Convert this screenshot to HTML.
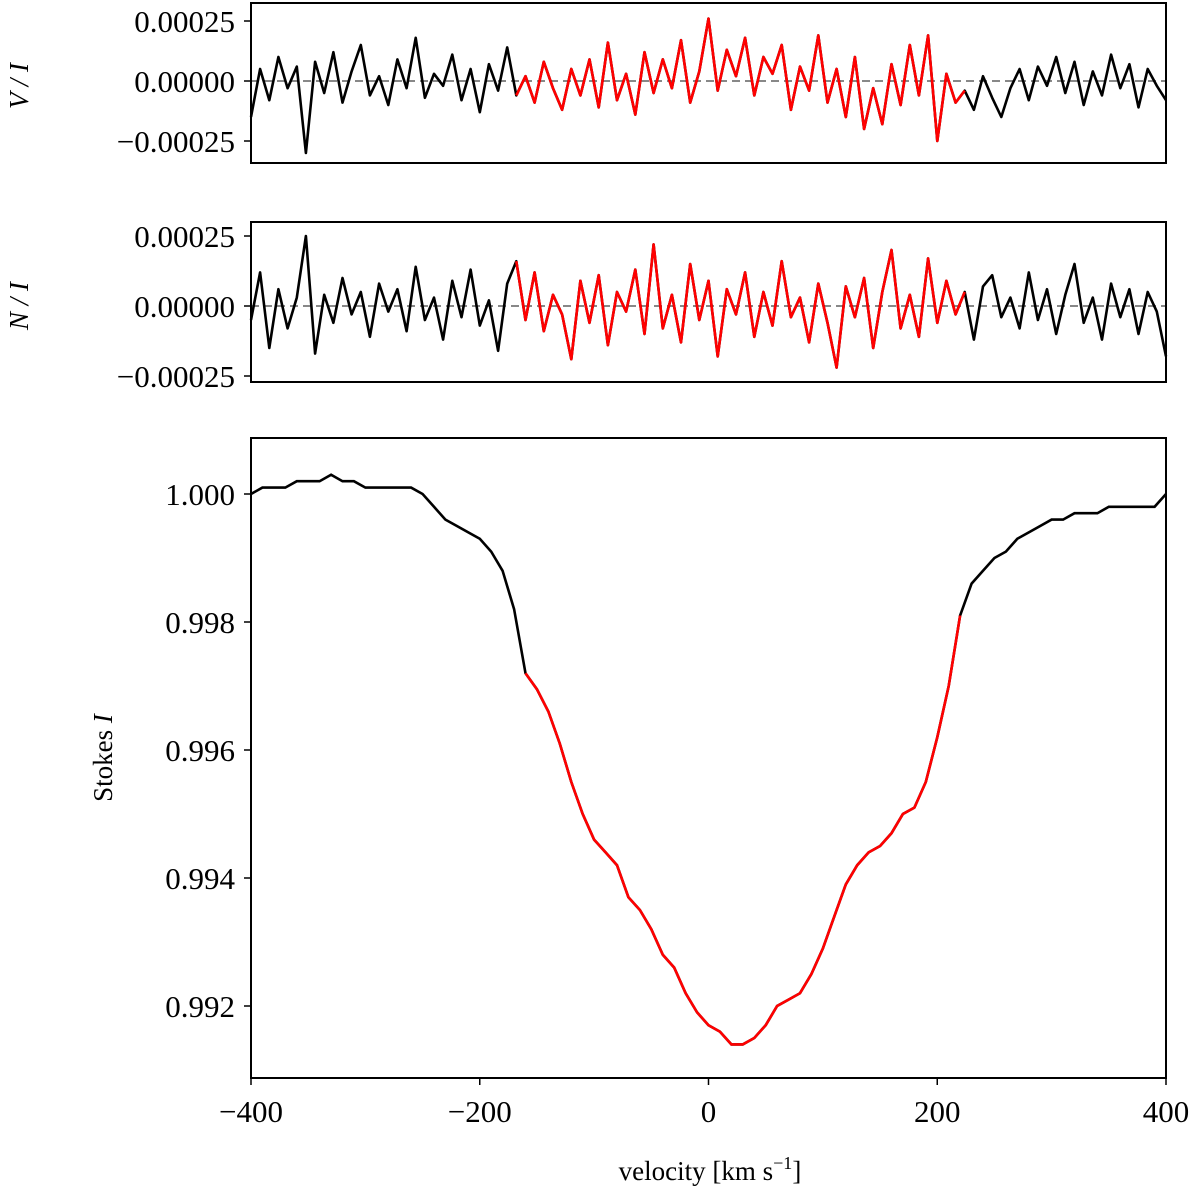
<!DOCTYPE html>
<html><head><meta charset="utf-8">
<style>
body{margin:0;background:#fff;}
svg{display:block;font-family:"Liberation Serif","DejaVu Serif",serif;}
</style></head>
<body>
<svg id="fig" width="1200" height="1198" viewBox="0 0 1200 1198" xmlns="http://www.w3.org/2000/svg"></svg>
<script>
// ---- data ----
const xTicks = [-400, -200, 0, 200, 400];
const noiseTicks = [0.00025, 0, -0.00025];
const noiseTickLabels = ["0.00025", "0.00000", "\u22120.00025"];
const iTicks = [1.000, 0.998, 0.996, 0.994, 0.992];
const iTickLabels = ["1.000", "0.998", "0.996", "0.994", "0.992"];
const redRange = [-165, 220];
// V/I values (x1e-4), evenly spaced from -400 to 400 km/s
const vValues = [-1.5,0.5,-0.8,1.0,-0.3,0.6,-3.0,0.8,-0.5,1.2,-0.9,0.4,1.5,-0.6,0.2,-1.0,0.9,-0.3,1.8,-0.7,0.3,-0.2,1.1,-0.8,0.5,-1.3,0.7,-0.4,1.4,-0.6,0.2,-0.9,0.8,-0.3,-1.2,0.5,-0.6,0.9,-1.1,1.6,-0.8,0.3,-1.4,1.2,-0.5,0.9,-0.3,1.7,-0.9,0.4,2.6,-0.4,1.3,0.2,1.8,-0.6,1.0,0.3,1.5,-1.2,0.6,-0.4,1.9,-0.9,0.5,-1.5,1.0,-2.0,-0.3,-1.8,0.7,-1.0,1.5,-0.6,1.9,-2.5,0.3,-0.9,-0.4,-1.2,0.2,-0.7,-1.5,-0.3,0.5,-0.8,0.6,-0.2,1.0,-0.5,0.8,-1.0,0.4,-0.6,1.1,-0.3,0.7,-1.1,0.5,-0.2,-0.8];
// N/I values (x1e-4)
const nValues = [-0.5,1.2,-1.5,0.6,-0.8,0.3,2.5,-1.7,0.4,-0.6,1.0,-0.3,0.5,-1.1,0.8,-0.2,0.6,-0.9,1.4,-0.5,0.3,-1.2,0.9,-0.4,1.3,-0.7,0.2,-1.6,0.8,1.6,-0.5,1.2,-0.9,0.4,-0.3,-1.9,0.9,-0.6,1.1,-1.4,0.5,-0.2,1.3,-1.0,2.2,-0.8,0.4,-1.3,1.5,-0.5,0.9,-1.8,0.6,-0.3,1.2,-1.1,0.5,-0.7,1.6,-0.4,0.3,-1.3,0.8,-0.6,-2.2,0.7,-0.4,1.0,-1.5,0.5,2.0,-0.8,0.4,-1.1,1.7,-0.6,0.9,-0.3,0.5,-1.2,0.7,1.1,-0.4,0.3,-0.8,1.2,-0.5,0.6,-1.0,0.4,1.5,-0.6,0.3,-1.2,0.8,-0.4,0.6,-1.0,0.5,-0.2,-1.8];
// Stokes I values, 10 km/s steps from -400 to 400
const iValues = [1.0000,1.0001,1.0001,1.0001,1.0002,1.0002,1.0002,1.0003,1.0002,1.0002,1.0001,1.0001,1.0001,1.0001,1.0001,1.0000,0.9998,0.9996,0.9995,0.9994,0.9993,0.9991,0.9988,0.9982,0.9972,0.99695,0.9966,0.9961,0.9955,0.9950,0.9946,0.9944,0.9942,0.9937,0.9935,0.9932,0.9928,0.9926,0.9922,0.9919,0.9917,0.9916,0.9914,0.9914,0.9915,0.9917,0.9920,0.9921,0.9922,0.9925,0.9929,0.9934,0.9939,0.9942,0.9944,0.9945,0.9947,0.9950,0.9951,0.9955,0.9962,0.9970,0.9981,0.9986,0.9988,0.9990,0.9991,0.9993,0.9994,0.9995,0.9996,0.9996,0.9997,0.9997,0.9997,0.9998,0.9998,0.9998,0.9998,0.9998,1.0000];

// ---- layout ----
const svg = document.getElementById('fig');
const NS = 'http://www.w3.org/2000/svg';
const X0 = 251, X1 = 1166;
const xScale = v => X0 + (v + 400) / 800 * (X1 - X0);
function mk(tag, attrs, parent) {
  const e = document.createElementNS(NS, tag);
  for (const k in attrs) e.setAttribute(k, attrs[k]);
  (parent || svg).appendChild(e);
  return e;
}
function velocities(n) { const a = []; for (let i = 0; i < n; i++) a.push(-400 + i * 800 / (n - 1)); return a; }

function drawSeries(g, vals, yScale, scaleMul, name) {
  const vs = velocities(vals.length);
  const all = vals.map((v, i) => xScale(vs[i]).toFixed(1) + ',' + yScale(v * scaleMul).toFixed(1)).join(' ');
  const bl = mk('polyline', {points: all, fill: 'none', stroke: '#000', 'stroke-width': 2.6, 'stroke-linejoin': 'round'}, g);
  
  
  const red = [];
  vals.forEach((v, i) => { if (vs[i] >= redRange[0] - 10 && vs[i] <= redRange[1] + 5) red.push(xScale(vs[i]).toFixed(1) + ',' + yScale(v * scaleMul).toFixed(1)); });
  const rl = mk('polyline', {points: red.join(' '), fill: 'none', stroke: '#f00', 'stroke-width': 2.6, 'stroke-linejoin': 'round'}, g);
  
  
}

function panel(name, top, bottom, yScale, ticks, labels, ylabel, zero) {
  const g = mk('g', {});
  
  
  if (zero) {
    const z = mk('line', {x1: X0, x2: X1, y1: yScale(0), y2: yScale(0), stroke: '#888', 'stroke-width': 2, 'stroke-dasharray': '8,5'}, g);
    
    
  }
  ticks.forEach((t, i) => {
    const y = yScale(t);
    const tk = mk('line', {x1: X0 - 7, x2: X0, y1: y, y2: y, stroke: '#000', 'stroke-width': 1.5}, g);
    
    
    const tl = mk('text', {x: X0 - 16, y: y + 11, 'text-anchor': 'end', 'font-size': 31}, g);
    tl.textContent = labels[i];
    
    
  });
  return g;
}

// Panel 1: V/I
const y1 = v => 81 - v / 0.00025 * 60;
const g1 = panel('v-over-i', 3, 163, y1, noiseTicks, noiseTickLabels, 'V/I', true);
drawSeries(g1, vValues, y1, 1e-4, 'v-over-i');
// Panel 2: N/I
const y2 = v => 306 - v / 0.00025 * 70;
const g2 = panel('n-over-i', 222, 382, y2, noiseTicks, noiseTickLabels, 'N/I', true);
drawSeries(g2, nValues, y2, 1e-4, 'n-over-i');
// Panel 3: Stokes I
const y3 = v => 494 + (1 - v) * 64000;
const g3 = panel('stokes-i', 438, 1078, y3, iTicks, iTickLabels, 'Stokes I', false);
{
  const vs = velocities(iValues.length);
  const all = iValues.map((v, i) => xScale(vs[i]).toFixed(1) + ',' + y3(v).toFixed(1)).join(' ');
  const bl = mk('polyline', {points: all, fill: 'none', stroke: '#000', 'stroke-width': 2.6}, g3);
  
  
  const red = [];
  iValues.forEach((v, i) => { if (vs[i] >= redRange[0] && vs[i] <= redRange[1]) red.push(xScale(vs[i]).toFixed(1) + ',' + y3(v).toFixed(1)); });
  const rl = mk('polyline', {points: red.join(' '), fill: 'none', stroke: '#f00', 'stroke-width': 2.6}, g3);
  
  
}
xTicks.forEach(t => {
  const x = xScale(t);
  const tk = mk('line', {x1: x, x2: x, y1: 1078, y2: 1085, stroke: '#000', 'stroke-width': 1.5});
  
  
  const tl = mk('text', {x: x, y: 1122, 'text-anchor': 'middle', 'font-size': 31});
  tl.textContent = t < 0 ? '\u2212' + Math.abs(t) : String(t);
  
  
});
// frames
[[3,163,'v-over-i'],[222,382,'n-over-i'],[438,1078,'stokes-i']].forEach(p => {
  const r = mk('rect', {x: X0, y: p[0], width: X1 - X0, height: p[1] - p[0], fill: 'none', stroke: '#000', 'stroke-width': 2});
  
  
});
</script>
<svg style="position:absolute;left:0;top:0" width="1200" height="1198" xmlns="http://www.w3.org/2000/svg" font-family="Liberation Serif, DejaVu Serif, serif">
  <text transform="translate(28,86) rotate(-90)" text-anchor="middle" font-size="27" font-style="italic">V / I</text>
  <text transform="translate(28,306) rotate(-90)" text-anchor="middle" font-size="27" font-style="italic">N / I</text>
  <text transform="translate(112,758) rotate(-90)" text-anchor="middle" font-size="27">Stokes <tspan font-style="italic">I</tspan></text>
  <text x="710" y="1180" text-anchor="middle" font-size="27">velocity [km s<tspan font-size="18" dy="-11">−1</tspan><tspan dy="11">]</tspan></text>
</svg>
</body></html>
